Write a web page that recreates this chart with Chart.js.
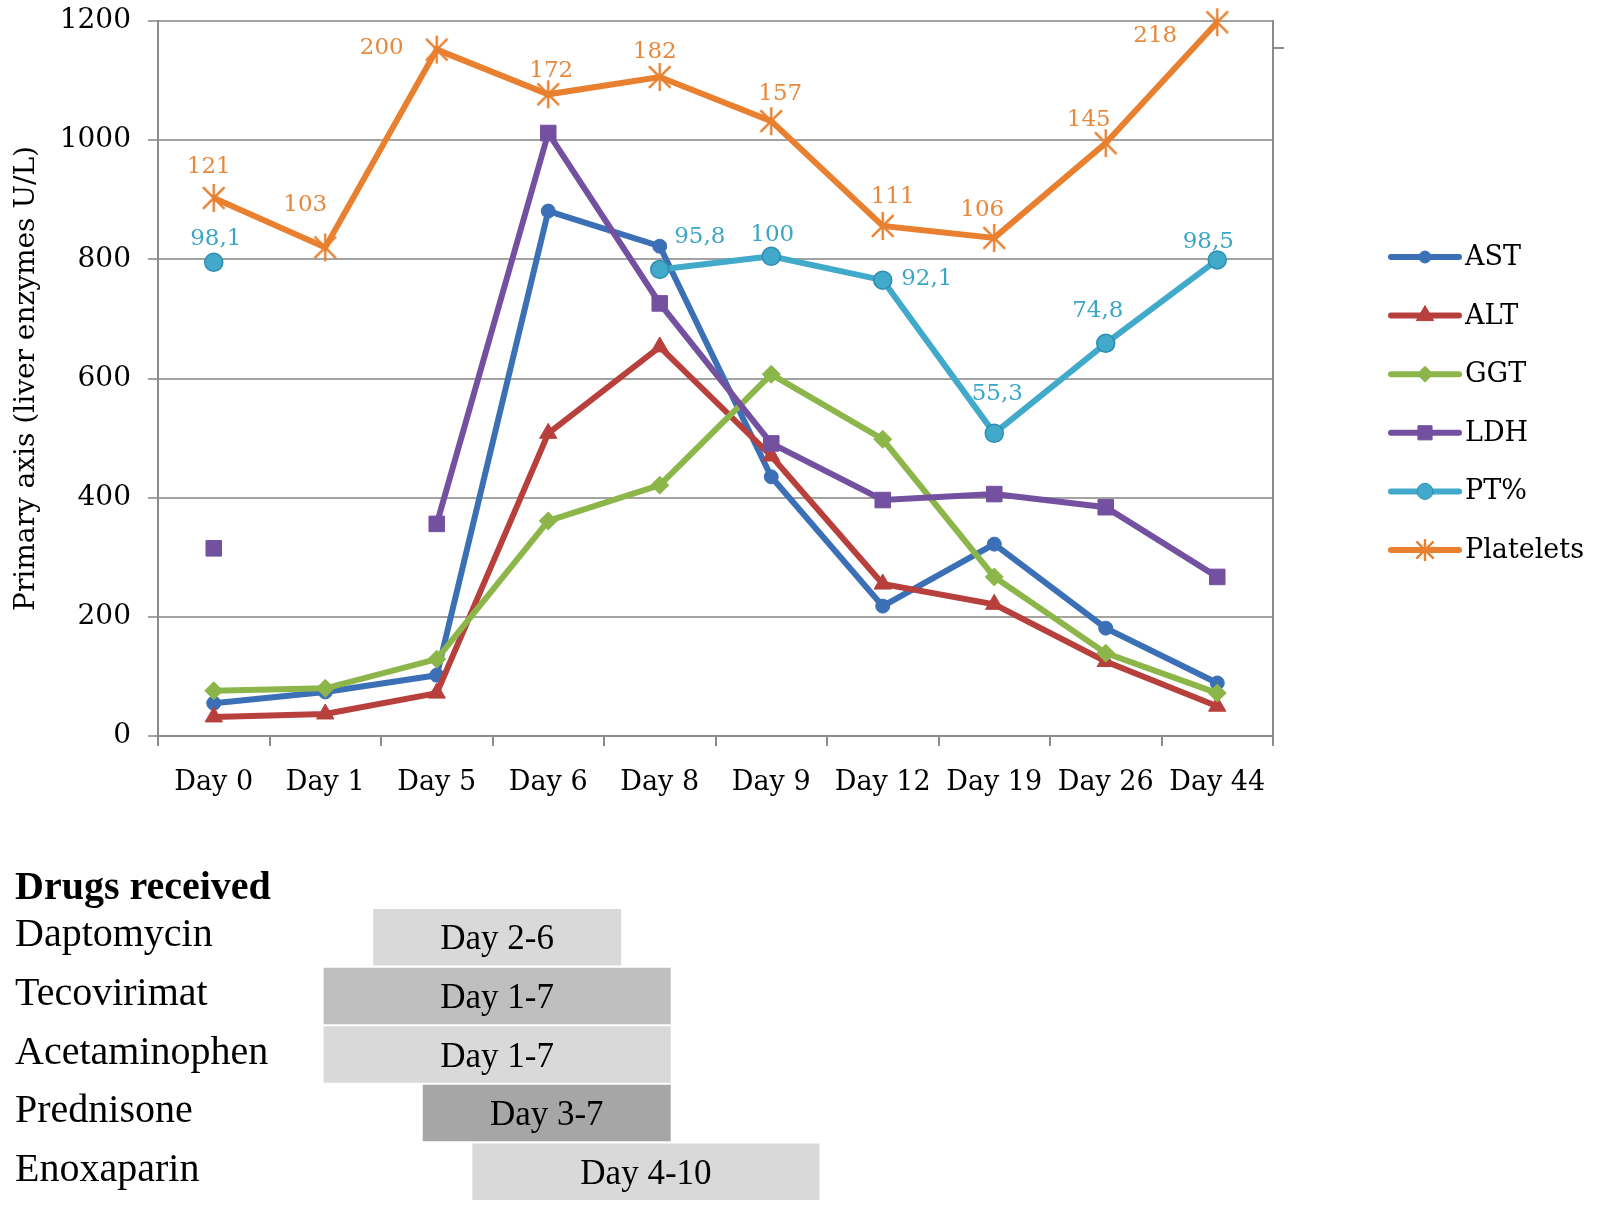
<!DOCTYPE html>
<html>
<head>
<meta charset="utf-8">
<script src="https://cdn.jsdelivr.net/npm/chart.js@4.4.1/dist/chart.umd.min.js"></script>
<style>
html,body{margin:0;padding:0;background:#ffffff;}
#main{position:absolute;left:0;top:0;}
#drugs{position:absolute;left:0;top:840px;}
</style>
</head>
<body>
<canvas id="main" width="1600" height="840"></canvas>
<canvas id="drugs" width="1600" height="373"></canvas>
<script>
// ---------------- data ----------------
const days = ['Day 0','Day 1','Day 5','Day 6','Day 8','Day 9','Day 12','Day 19','Day 26','Day 44'];
const seriesNames = ['AST','ALT','GGT','LDH','PT%','Platelets'];
const astValues = [55, 74, 102, 881, 822, 435, 218, 322, 181, 89];
const altValues = [32, 37, 72, 508, 653, 470, 255, 221, 125, 50];
const ggtValues = [76, 80, 129, 361, 421, 607, 498, 267, 139, 72];
const ldhValues = [315, null, 356, 1012, 726, 491, 396, 406, 384, 267];
const ptPlotted = [795, null, null, null, 783, 805, 765, 508, 659, 799];
const ptLabels = ['98,1', null, null, null, '95,8', '100', '92,1', '55,3', '74,8', '98,5'];
const plateletsPlotted = [903, 820, 1152, 1077, 1106, 1032, 856, 836, 995, 1198];
const plateletsLabels = ['121','103','200','172','182','157','111','106','145','218'];
const yMin = 0, yMax = 1200, yStep = 200;
const yTitle = 'Primary axis (liver enzymes U/L)';
const secondaryTickValue = 1154;

const drugsTitle = 'Drugs received';
const drugNames = ['Daptomycin','Tecovirimat','Acetaminophen','Prednisone','Enoxaparin'];
const drugFrom = [2, 1, 1, 3, 4];
const drugTo = [6, 7, 7, 7, 10];

// ---------------- styles ----------------
const colors = ['#3c70b6','#b8403c','#8db64a','#7451a0','#41a9c9','#e8802f'];
const ptLabelColor = '#3aa6c6';
const pltLabelColor = '#e8883c';
const drugShades = ['#d9d9d9','#bfbfbf','#d9d9d9','#a6a6a6','#d9d9d9'];
const serif = 'DejaVu Serif';
const drugFont = 'Liberation Serif';

Chart.defaults.font.family = serif;
Chart.defaults.color = '#000';

function makeStar(color, size){
  const c = document.createElement('canvas');
  c.width = size; c.height = size;
  const g = c.getContext('2d');
  const m = size/2, a = size*0.36;
  g.strokeStyle = color; g.lineWidth = 2.4; g.lineCap = 'butt';
  g.beginPath();
  g.moveTo(m-a,m-a); g.lineTo(m+a,m+a);
  g.moveTo(m+a,m-a); g.lineTo(m-a,m+a);
  g.moveTo(m,1); g.lineTo(m,size-1);
  g.stroke();
  return c;
}
const starImg = makeStar(colors[5], 30);
const starLegend = makeStar(colors[5], 24);

const pltOffsets = [[-5,-31],[-20,-42],[-55,-2],[3,-23],[-5,-25],[9,-27],[10,-29],[-12,-28],[-17,-23],[-62,14]];
const ptOffsets = [[2,-23],null,null,null,[40,-32],[1,-21],[44,-1],[3,-39],[-8,-32],[-9,-18]];

const markerStyles = [
  {style:'circle', r:7},
  {style:'triangle', r:10},
  {style:'rectRot', r:9},
  {style:'rect', r:11},
  {style:'circle', r:9},
  {style:starImg, r:15}
];
const legendMarkers = [
  {style:'circle', r:6},
  {style:'triangle', r:10},
  {style:'rectRot', r:8},
  {style:'rect', r:10},
  {style:'circle', r:8},
  {style:starLegend, r:12}
];
const seriesData = [astValues, altValues, ggtValues, ldhValues, ptPlotted, plateletsPlotted];

const datasets = seriesNames.map((name,i)=>({
  label: name,
  data: seriesData[i],
  borderColor: colors[i],
  backgroundColor: colors[i],
  borderWidth: 6,
  tension: 0,
  fill: false,
  spanGaps: false,
  clip: false,
  pointStyle: markerStyles[i].style,
  pointRadius: markerStyles[i].r,
  pointHoverRadius: markerStyles[i].r,
  pointBackgroundColor: colors[i],
  pointBorderColor: i===4 ? '#2d8db0' : colors[i],
  pointBorderWidth: i===4 ? 1.5 : 1,
  order: seriesNames.length - i
}));
datasets[4].pointLabels = ptLabels; datasets[4].labelOffsets = ptOffsets; datasets[4].labelColor = ptLabelColor;
datasets[5].pointLabels = plateletsLabels; datasets[5].labelOffsets = pltOffsets; datasets[5].labelColor = pltLabelColor;

const labelPlugin = {
  id: 'pointLabels',
  afterDatasetsDraw(chart){
    const ctx = chart.ctx;
    chart.data.datasets.forEach((ds,i)=>{
      if(!ds.pointLabels) return;
      const meta = chart.getDatasetMeta(i);
      ctx.save();
      ctx.font = '23px "' + serif + '"';
      ctx.fillStyle = ds.labelColor;
      ctx.textAlign = 'center';
      ctx.textBaseline = 'middle';
      meta.data.forEach((pt,j)=>{
        const t = ds.pointLabels[j];
        if(t == null || ds.data[j] == null) return;
        const o = ds.labelOffsets[j];
        ctx.fillText(t, pt.x + o[0], pt.y + o[1]);
      });
      ctx.restore();
    });
  }
};

function drawMarker(ctx, m, x, y, color, border){
  ctx.save();
  ctx.fillStyle = color; ctx.strokeStyle = border; ctx.lineWidth = 1;
  if(typeof m.style !== 'string'){
    ctx.drawImage(m.style, x - m.style.width/2, y - m.style.height/2);
    ctx.restore(); return;
  }
  const r = m.r;
  ctx.beginPath();
  if(m.style === 'circle'){ ctx.arc(x,y,r,0,Math.PI*2); }
  else if(m.style === 'triangle'){
    ctx.moveTo(x, y - r); ctx.lineTo(x + r*0.866, y + r*0.5); ctx.lineTo(x - r*0.866, y + r*0.5); ctx.closePath();
  } else if(m.style === 'rectRot'){
    ctx.moveTo(x, y - r); ctx.lineTo(x + r, y); ctx.lineTo(x, y + r); ctx.lineTo(x - r, y); ctx.closePath();
  } else if(m.style === 'rect'){
    const s = r*0.707; ctx.rect(x - s, y - s, 2*s, 2*s);
  }
  ctx.fill(); ctx.stroke();
  ctx.restore();
}

const legendPlugin = {
  id: 'sideLegend',
  afterDraw(chart){
    const ctx = chart.ctx;
    const x0 = 1391, x1 = 1459, y0 = 257, gap = 58.6;
    chart.data.datasets.forEach((ds,i)=>{
      const y = y0 + i*gap;
      ctx.save();
      ctx.strokeStyle = ds.borderColor; ctx.lineWidth = 6; ctx.lineCap = 'round';
      ctx.beginPath(); ctx.moveTo(x0, y); ctx.lineTo(x1, y); ctx.stroke();
      ctx.restore();
      drawMarker(ctx, legendMarkers[i], (x0+x1)/2, y, ds.borderColor, ds.pointBorderColor);
      ctx.save();
      ctx.font = '27px "' + serif + '"';
      ctx.fillStyle = '#000'; ctx.textAlign = 'left'; ctx.textBaseline = 'middle';
      ctx.fillText(ds.label, x1 + 6, y + 1);
      ctx.restore();
    });
  }
};

new Chart(document.getElementById('main'), {
  type: 'line',
  data: { labels: days, datasets: datasets },
  options: {
    responsive: false,
    animation: false,
    devicePixelRatio: 1,
    layout: { padding: { left: 0, right: 0, top: 21, bottom: 0 } },
    plugins: { legend: { display: false }, tooltip: { enabled: false } },
    scales: {
      x: {
        type: 'category',
        offset: true,
        grid: { display: true, offset: true, drawOnChartArea: false, drawTicks: true, tickLength: 10, color: '#8c8c8c', lineWidth: 2 },
        border: { display: true, color: '#8c8c8c', width: 2 },
        ticks: { font: { size: 27, family: serif }, color: '#000', padding: 21, autoSkip: false, maxRotation: 0 },
        afterFit(s){ s.height = 104; s.paddingLeft = 0; s.paddingRight = 0; }
      },
      y: {
        position: 'left',
        min: yMin, max: yMax,
        ticks: { stepSize: yStep, font: { size: 28, family: serif }, color: '#000', padding: 17, callback: v => String(v) },
        grid: { color: '#a3a3a3', lineWidth: 2, tickLength: 10, drawTicks: true },
        border: { display: true, color: '#8c8c8c', width: 2 },
        title: { display: true, text: yTitle, font: { size: 28, family: serif }, color: '#000', padding: { top: 10, bottom: 0 } },
        afterFit(s){ s.width = 158; s.paddingTop = 0; s.paddingBottom = 0; }
      },
      y2: {
        position: 'right',
        min: yMin, max: yMax,
        ticks: { display: false },
        grid: { drawOnChartArea: false, drawTicks: true, tickLength: 11, color: '#8c8c8c', lineWidth: 2 },
        border: { display: true, color: '#8c8c8c', width: 2 },
        afterBuildTicks(s){ s.ticks = [{ value: secondaryTickValue }]; },
        afterFit(s){ s.width = 327; s.paddingTop = 0; s.paddingBottom = 0; }
      }
    }
  },
  plugins: [labelPlugin, legendPlugin]
});

// ---------------- drugs panel ----------------
const drugTextPlugin = {
  id: 'drugText',
  afterDatasetsDraw(chart){
    const ctx = chart.ctx;
    const meta = chart.getDatasetMeta(0);
    ctx.save();
    ctx.fillStyle = '#000';
    ctx.textAlign = 'left'; ctx.textBaseline = 'alphabetic';
    ctx.font = 'bold 40px "' + drugFont + '"';
    ctx.fillText(drugsTitle, 15, meta.data[0].y - 38);
    ctx.font = '40px "' + drugFont + '"';
    drugNames.forEach((n,i)=>{
      ctx.fillText(n, 15, meta.data[i].y + 9);
    });
    ctx.textAlign = 'center';
    ctx.font = '35px "' + drugFont + '"';
    meta.data.forEach((el,i)=>{
      ctx.fillText('Day ' + drugFrom[i] + '-' + drugTo[i], (el.x + el.base)/2, el.y + 12);
    });
    ctx.restore();
  }
};

new Chart(document.getElementById('drugs'), {
  type: 'bar',
  data: {
    labels: drugNames,
    datasets: [{
      data: drugFrom.map((f,i)=>[f, drugTo[i] + 1]),
      backgroundColor: drugShades,
      borderWidth: 0,
      barPercentage: 0.965,
      categoryPercentage: 1
    }]
  },
  options: {
    indexAxis: 'y',
    responsive: false,
    animation: false,
    devicePixelRatio: 1,
    layout: { padding: { left: 274, right: 235, top: 68, bottom: 12 } },
    scales: {
      x: { type: 'linear', min: 0, max: 22, display: false },
      y: { display: false }
    },
    plugins: { legend: { display: false }, tooltip: { enabled: false } }
  },
  plugins: [drugTextPlugin]
});
</script>
</body>
</html>
